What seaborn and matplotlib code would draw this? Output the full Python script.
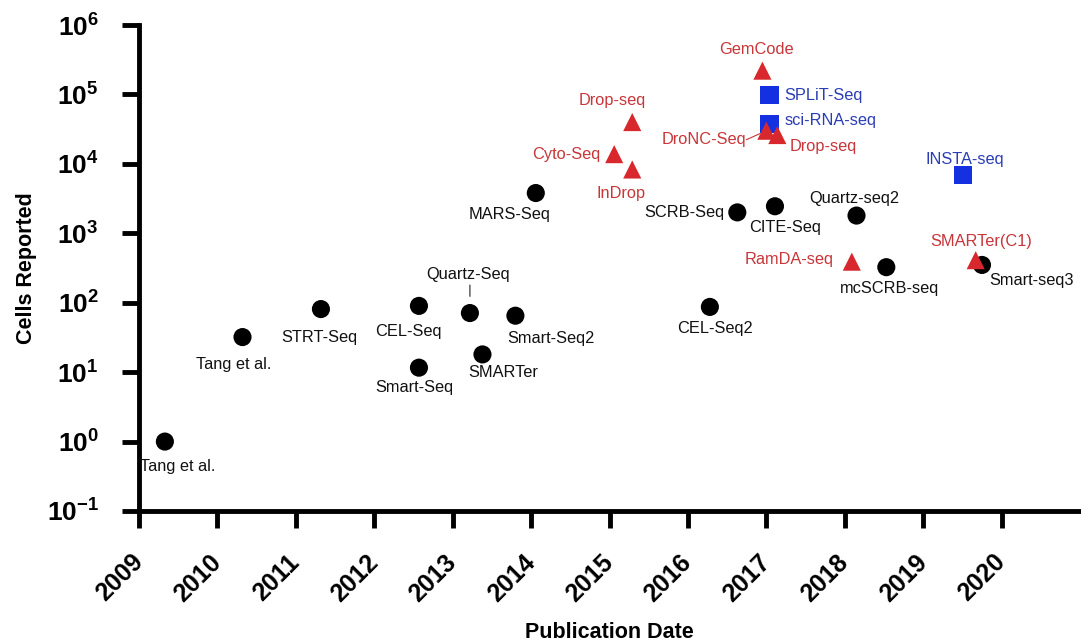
import numpy as np
import pandas as pd
import matplotlib
matplotlib.use("Agg")
import matplotlib.pyplot as plt
import seaborn as sns

# ---- data ----
methods = ["Tang et al.", "Tang et al.", "STRT-Seq", "CEL-Seq", "Smart-Seq", "Quartz-Seq",
           "SMARTer", "Smart-Seq2", "MARS-Seq", "CEL-Seq2", "SCRB-Seq", "CITE-Seq",
           "Quartz-seq2", "mcSCRB-seq", "Smart-seq3",
           "SPLiT-Seq", "sci-RNA-seq", "INSTA-seq",
           "Cyto-Seq", "Drop-seq", "InDrop", "GemCode", "DroNC-Seq", "Drop-seq",
           "RamDA-seq", "SMARTer(C1)"]
dates = [2009.33, 2010.32, 2011.32, 2012.57, 2012.57, 2013.22,
         2013.38, 2013.80, 2014.06, 2016.28, 2016.63, 2017.11,
         2018.15, 2018.53, 2019.75,
         2017.04, 2017.04, 2019.51,
         2015.06, 2015.29, 2015.29, 2016.95, 2017.00, 2017.14,
         2018.09, 2019.67]
cells = [1, 32, 81, 90, 11.6, 71,
         18, 65, 3800, 87, 2000, 2450,
         1800, 325, 350,
         98000, 38000, 6900,
         13800, 40000, 8300, 220000, 30000, 26000,
         390, 410]
kinds = (["plate"] * 15) + (["split"] * 3) + (["droplet"] * 8)
year_ticks = list(range(2009, 2021))
cell_ticks = [1e-1, 1, 10, 100, 1e3, 1e4, 1e5, 1e6]

# label placement (pixel offsets) and alignment
offsets = [(13, -25, "center"), (-9, -27, "center"), (-2, -28, "center"), (-11, -26, "center"),
           (-5, -20, "center"), (-2, 39, "center"), (21, -18, "center"), (36, -23, "center"),
           (-26, -21, "center"), (5, -22, "center"), (-13, 0, "right"), (10, -21, "center"),
           (-2, 17, "center"), (3, -21, "center"), (50, -16, "center"),
           (15, 0, "left"), (15, 3, "left"), (2, 16, "center"),
           (-14, 0, "right"), (-20, 22, "center"), (-11, -24, "center"), (-6, 21, "center"),
           (-20, -9, "right"), (12, -11, "left"),
           (-18, 2, "right"), (5, 19, "center")]

df = pd.DataFrame({"method": methods, "date": dates, "cells": cells, "kind": kinds})

black = "#000000"
red = "#d8282d"
blue = "#1530e0"
red_txt = "#c8363a"
blue_txt = "#2a3db5"
palette = {"plate": black, "split": blue, "droplet": red}
markers = {"plate": "o", "split": "s", "droplet": "^"}
txtcol = {"plate": "#111111", "split": blue_txt, "droplet": red_txt}

sns.set_style("white")
plt.rcParams["font.family"] = ["Liberation Sans", "DejaVu Sans"]
plt.rcParams["mathtext.fontset"] = "custom"
plt.rcParams["mathtext.rm"] = "Liberation Sans"
plt.rcParams["mathtext.bf"] = "Liberation Sans:bold"
plt.rcParams["axes.unicode_minus"] = False
plt.rcParams["text.color"] = "black"
plt.rcParams["xtick.color"] = "black"
plt.rcParams["ytick.color"] = "black"
plt.rcParams["axes.labelcolor"] = "black"

fig = plt.figure(figsize=(10.81, 6.44), dpi=100)
ax = fig.add_axes([139 / 1081, 1 - 511 / 644, (1080 - 139) / 1081, (511 - 25) / 644])

sns.scatterplot(data=df, x="date", y="cells", hue="kind", style="kind",
                palette=palette, markers=markers, s=170, edgecolor="none",
                linewidth=0, legend=False, ax=ax, zorder=3, clip_on=False)

ax.set_yscale("log")
ax.set_xlim(2009, 2021)
ax.set_ylim(0.1, 1e6)

ax.set_yticks(cell_ticks)
ax.set_yticklabels([r"$\mathbf{10^{%d}}$" % int(round(np.log10(v))) for v in cell_ticks],
                   fontsize=19)
ax.yaxis.set_minor_locator(matplotlib.ticker.NullLocator())
ax.set_xticks(year_ticks)
ax.set_xticklabels([str(y) for y in year_ticks], rotation=45, ha="right", va="center",
                   rotation_mode="anchor", fontsize=18, fontweight="bold")

for s in ["top", "right"]:
    ax.spines[s].set_visible(False)
for s in ["left", "bottom"]:
    ax.spines[s].set_linewidth(3.5)
    ax.spines[s].set_color("black")
ax.tick_params(axis="both", which="major", direction="out", length=12, width=3.5,
               color="black", bottom=True, left=True)
ax.tick_params(axis="y", pad=17)
ax.tick_params(axis="x", pad=22)

ax.set_xlabel("Publication Date", fontsize=15.5, fontweight="bold")
ax.set_ylabel("Cells Reported", fontsize=15.5, fontweight="bold")
ax.xaxis.set_label_coords(0.5, -0.228)
ax.yaxis.set_label_coords(-0.108, 0.5)

for (m, d, c, k), (dx, dy, ha) in zip(zip(methods, dates, cells, kinds), offsets):
    ax.annotate(m, (d, c), xytext=(dx, dy), textcoords="offset pixels",
                ha=ha, va="center", fontsize=11.8, color=txtcol[k], zorder=4)

# connector lines
ax.annotate("", (2013.22, 71), xytext=(0, 28), textcoords="offset pixels",
            arrowprops=dict(arrowstyle="-", color="#222222", lw=0.8,
                            shrinkA=0, shrinkB=12))
ax.annotate("", (2017.00, 30000), xytext=(-20, -9), textcoords="offset pixels",
            arrowprops=dict(arrowstyle="-", color=red_txt, lw=0.8,
                            shrinkA=0, shrinkB=5))

fig.savefig("out.png", dpi=100, facecolor="white")
